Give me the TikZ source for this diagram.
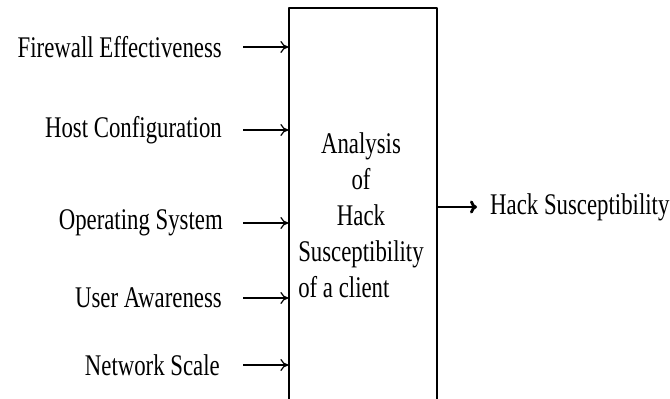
\documentclass[tikz,border=0pt]{standalone}
\usepackage{fontspec}
\setmainfont[FakeStretch=0.76]{Liberation Serif}
\usetikzlibrary{arrows.meta}

\tikzset{
  fattore/.style={anchor=east,inner sep=0pt,font=\fontsize{30}{36}\selectfont},
  freccia/.style={line width=1.2pt,-{To[length=8pt,width=12pt]}},
  frecciaout/.style={line width=2.8pt,-{To[length=7pt,width=13pt]}}
}

\begin{document}
\begin{tikzpicture}[x=1pt,y=1pt,line join=round]
  \useasboundingbox (0,0) rectangle (670,399);
  \clip (0,0) rectangle (670,399);

  % Riquadro centrale: esce dal bordo in basso.
  \node[draw,line width=1.3pt,minimum width=148pt,minimum height=401pt,inner sep=0pt]
    (analisi) at (363,190.5) {};
  \node[inner sep=0pt,font=\fontsize{30}{36}\selectfont] (titolo) at (361,180.5)
    {\begin{tabular}{@{}c@{}}Analysis\\ of\\ Hack\\ Susceptibility\\
     \multicolumn{1}{@{}l@{}}{of a client}\end{tabular}};

  % Fattori in ingresso.
  \node[fattore] (firewall) at (222,352) {Firewall Effectiveness};
  \node[fattore] (host) at (222,269) {Host Configuration};
  \node[fattore] (os) at (223,176) {Operating System};
  \node[fattore] (utente) at (222,101) {User Awareness};
  \node[fattore] (rete) at (220,34) {Network Scale};
  \foreach \n/\s in {firewall/21,host/21,os/20,utente/21,rete/23}{
    \draw[freccia,shorten <=\s pt] (\n.east) -- (\n.east -| analisi.west);
  }

  % Uscita.
  \node[fattore,anchor=west] (uscita) at (490,192) {Hack Susceptibility};
  \draw[frecciaout,shorten >=13pt] (uscita.west -| analisi.east) -- (uscita.west);
\end{tikzpicture}
\end{document}
